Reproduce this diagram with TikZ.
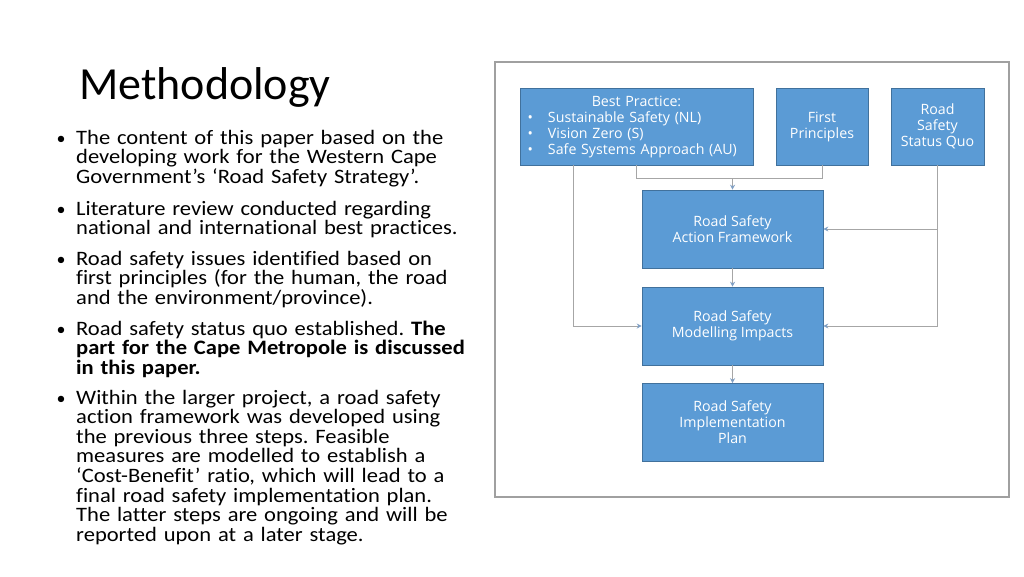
\documentclass[tikz,border=0pt]{standalone}
\usepackage{fontspec}
\setmainfont{Carlito}[Ligatures={NoCommon}]
\newfontfamily\bodyfont{Carlito}[Ligatures={NoCommon}, FakeStretch=1.1]
\newfontfamily\boxfont{Open Sans}
\usetikzlibrary{arrows.meta}
\definecolor{boxfill}{HTML}{5B9BD5}
\definecolor{boxline}{HTML}{41719C}
\definecolor{conn}{HTML}{A6A6A6}
\definecolor{tipc}{HTML}{7F9FC4}
\definecolor{framec}{HTML}{A0A0A0}
\frenchspacing
\tikzset{
  flowbox/.style={draw=boxline, line width=0.6pt, fill=boxfill, inner sep=0pt, text=white,
    font={\boxfont\fontsize{14.2}{16}\selectfont}, align=center},
  conline/.style={draw=conn, line width=1pt},
  conarrow/.style={conline, -{Stealth[length=5pt,width=5pt,color=tipc]}},
  bodytext/.style={anchor=base west, inner sep=0pt, text width=440pt, align=left,
    font={\bodyfont\fontsize{20.5}{19.6}\selectfont\frenchspacing}},
  bulletmark/.style={anchor=base, inner sep=0pt, font={\fontsize{18}{19.6}\selectfont}}
}
\begin{document}
\begin{tikzpicture}[x=1pt,y=-1pt]
\useasboundingbox (0,0) rectangle (1024,576);
\fill[white] (0,0) rectangle (1024,576);

% title
\node[anchor=base west, inner sep=0pt, font={\fontsize{46}{50}\selectfont}] (title) at (79,99) {Methodology};

% bullets
\node[bulletmark] (b1) at (61,144) {•};
\node[bodytext] (t1) at (76,144) {The content of this paper based on the\\developing work for the Western Cape\\Government’s ‘Road Safety Strategy’.};
\node[bulletmark] (b2) at (61,215) {•};
\node[bodytext] (t2) at (76,215) {Literature review conducted regarding\\national and international best practices.};
\node[bulletmark] (b3) at (61,265) {•};
\node[bodytext] (t3) at (76,265) {Road safety issues identified based on\\first principles (for the human, the road\\and the environment/province).};
\node[bulletmark] (b4) at (61,335) {•};
\node[bodytext] (t4) at (76,335) {Road safety status quo established. \textbf{The}\\\textbf{part for the Cape Metropole is discussed}\\\textbf{in this paper.}};
\node[bulletmark] (b5) at (61,404) {•};
\node[bodytext] (t5) at (76,404) {Within the larger project, a road safety\\action framework was developed using\\the previous three steps. Feasible\\measures are modelled to establish a\\‘Cost-Benefit’ ratio, which will lead to a\\final road safety implementation plan.\\The latter steps are ongoing and will be\\reported upon at a later stage.};

% frame
\draw[draw=framec, line width=1.2pt] (495,62) rectangle (1009,497);

% boxes
\node[flowbox, minimum width=233pt, minimum height=77pt, text width=233pt, align=left] (best) at (636.5,126.5)
  {\makebox[233pt][c]{Best Practice:}\\
   \hspace*{7.5pt}\makebox[20.5pt][l]{•}Sustainable Safety (NL)\\
   \hspace*{7.5pt}\makebox[20.5pt][l]{•}Vision Zero (S)\\
   \hspace*{7.5pt}\makebox[20.5pt][l]{•}Safe Systems Approach (AU)};
\node[flowbox, minimum width=92pt, minimum height=77pt] (fp) at (822,126.5) {First\\Principles};
\node[flowbox, minimum width=93pt, minimum height=77pt] (sq) at (937.5,126.5) {Road\\Safety\\Status Quo};
\node[flowbox, minimum width=181pt, minimum height=78pt] (af) at (732.5,229) {Road Safety\\Action Framework};
\node[flowbox, minimum width=181pt, minimum height=78pt] (mi) at (732.5,326) {Road Safety\\Modelling Impacts};
\node[flowbox, minimum width=181pt, minimum height=78pt] (ip) at (732.5,422.5) {Road Safety\\Implementation\\Plan};

% connectors
\coordinate (jy) at (0,178);
\coordinate (lx) at (573,0);
\draw[conline] (best.south) -- (best.south |- jy) -| (fp.south);
\draw[conarrow] (af.north |- jy) -- (af.north);
\draw[conarrow] (best.south -| lx) |- (mi.west);
\draw[conarrow] (sq.south) |- (mi.east);
\draw[conarrow] (sq.south |- af.east) -- (af.east);
\draw[conarrow] (af.south) -- (mi.north);
\draw[conarrow] (mi.south) -- (ip.north);
\end{tikzpicture}
\end{document}
